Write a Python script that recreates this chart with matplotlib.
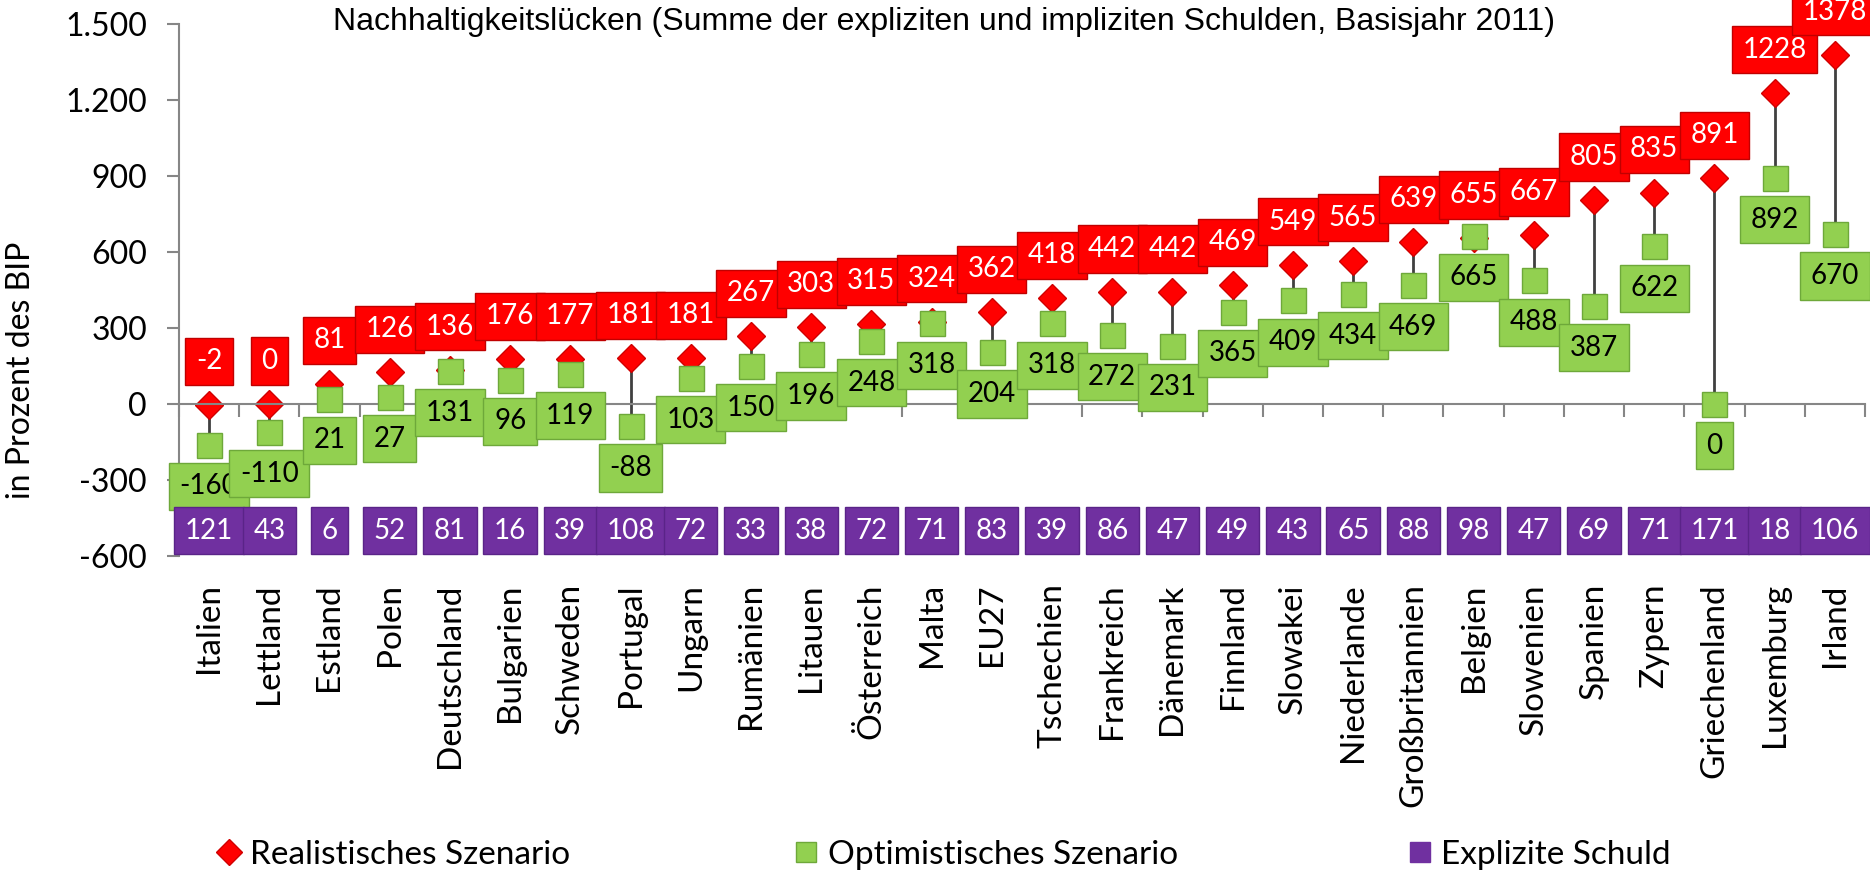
import numpy as np
import matplotlib
matplotlib.use("Agg")
from matplotlib import pyplot as plt
from matplotlib.lines import Line2D
from matplotlib.ticker import FuncFormatter

# Daten
laender = ["Italien", "Lettland", "Estland", "Polen", "Deutschland", "Bulgarien",
           "Schweden", "Portugal", "Ungarn", "Rumänien", "Litauen", "Österreich",
           "Malta", "EU27", "Tschechien", "Frankreich", "Dänemark", "Finnland",
           "Slowakei", "Niederlande", "Großbritannien", "Belgien", "Slowenien",
           "Spanien", "Zypern", "Griechenland", "Luxemburg", "Irland"]
realistisch = [-2, 0, 81, 126, 136, 176, 177, 181, 181, 267, 303, 315, 324, 362,
               418, 442, 442, 469, 549, 565, 639, 655, 667, 805, 835, 891, 1228, 1378]
optimistisch = [-160, -110, 21, 27, 131, 96, 119, -88, 103, 150, 196, 248, 318, 204,
                318, 272, 231, 365, 409, 434, 469, 665, 488, 387, 622, 0, 892, 670]
explizit = [121, 43, 6, 52, 81, 16, 39, 108, 72, 33, 38, 72, 71, 83,
            39, 86, 47, 49, 43, 65, 88, 98, 47, 69, 71, 171, 18, 106]
y_ticks = [-600, -300, 0, 300, 600, 900, 1200, 1500]

rot = "#FF0000"
gruen = "#92D050"
lila = "#7030A0"
schrift = ["Lato", "DejaVu Sans"]

fig = plt.figure(figsize=(18.7, 8.74), dpi=100)
ax = fig.add_axes([0.0957, 0.3638, 0.9016, 0.6087])

x = np.arange(len(laender))

# Verbindungslinien und Marker
ax.vlines(x, optimistisch, realistisch, color="#404040", lw=2, zorder=1)
ax.plot(x, realistisch, "D", ms=14, mfc=rot, mec="#D00000", mew=1, zorder=2)
ax.plot(x, optimistisch, "s", ms=18, mfc=gruen, mec="#6EA83A", mew=1, zorder=3)

# Datenbeschriftungen
box_pad = "square,pad=0.38"
for i in range(len(x)):
    ax.annotate(str(realistisch[i]), (x[i], realistisch[i]), xytext=(0, 31),
                textcoords="offset points", ha="center", va="center",
                color="white", fontsize=20, family=schrift, zorder=4,
                bbox=dict(boxstyle=box_pad, fc=rot, ec="#C00000", lw=1))
for i in range(len(x)):
    ax.annotate(str(optimistisch[i]), (x[i], optimistisch[i]), xytext=(0, -30),
                textcoords="offset points", ha="center", va="center",
                color="black", fontsize=20, family=schrift, zorder=5,
                bbox=dict(boxstyle=box_pad, fc=gruen, ec="#6EA83A", lw=1))
for i in range(len(x)):
    ax.text(x[i], -500, str(explizit[i]), ha="center", va="center",
            color="white", fontsize=20, family=schrift, zorder=6,
            bbox=dict(boxstyle=box_pad, fc=lila, ec="#5A2488", lw=1))

# Achsen
ax.set_xlim(-0.5, len(x) - 0.5)
ax.set_ylim(-600, 1500)
ax.set_yticks(y_ticks)
ax.yaxis.set_major_formatter(FuncFormatter(lambda v, p: f"{int(v):,}".replace(",", ".")))
for s in ["top", "right"]:
    ax.spines[s].set_visible(False)
ax.spines["bottom"].set_position(("data", 0))
ax.spines["left"].set_color("#868686")
ax.spines["bottom"].set_color("#868686")
ax.spines["left"].set_linewidth(1.5)
ax.spines["bottom"].set_linewidth(1.5)

ax.set_xticks(x)
ax.set_xticklabels(laender, rotation=90, fontsize=24, family=schrift, va="top")
ax.set_xticks(np.arange(len(x) + 1) - 0.5, minor=True)
ax.tick_params(axis="x", which="major", length=0, pad=129)
ax.tick_params(axis="x", which="minor", length=9, width=1.5, color="#868686", direction="out")
ax.tick_params(axis="y", length=9, width=1.5, color="#868686", labelsize=23, pad=14)
for t in ax.get_yticklabels():
    t.set_family(schrift)

ax.set_ylabel("in Prozent des BIP", fontsize=23, family=schrift)
ax.yaxis.set_label_coords(-0.085, 0.35)

fig.text(0.5048, 0.9754,
         "Nachhaltigkeitslücken (Summe der expliziten und impliziten Schulden, Basisjahr 2011)",
         ha="center", va="center", fontsize=23, family="Liberation Sans")

# Legende
eintraege = [
    (Line2D([], [], ls="none", marker="D", ms=13, mfc=rot, mec="#D00000"), "Realistisches Szenario", 0.116),
    (Line2D([], [], ls="none", marker="s", ms=15, mfc=gruen, mec="#6EA83A"), "Optimistisches Szenario", 0.425),
    (Line2D([], [], ls="none", marker="s", ms=15, mfc=lila, mec=lila), "Explizite Schuld", 0.753),
]
for h, lab, xp in eintraege:
    fig.legend([h], [lab], loc="center left", bbox_to_anchor=(xp, 0.0217),
               frameon=False, borderpad=0, borderaxespad=0, handlelength=0.7,
               handletextpad=0.3, prop={"family": schrift, "size": 24})

fig.savefig("out.png", dpi=100)
